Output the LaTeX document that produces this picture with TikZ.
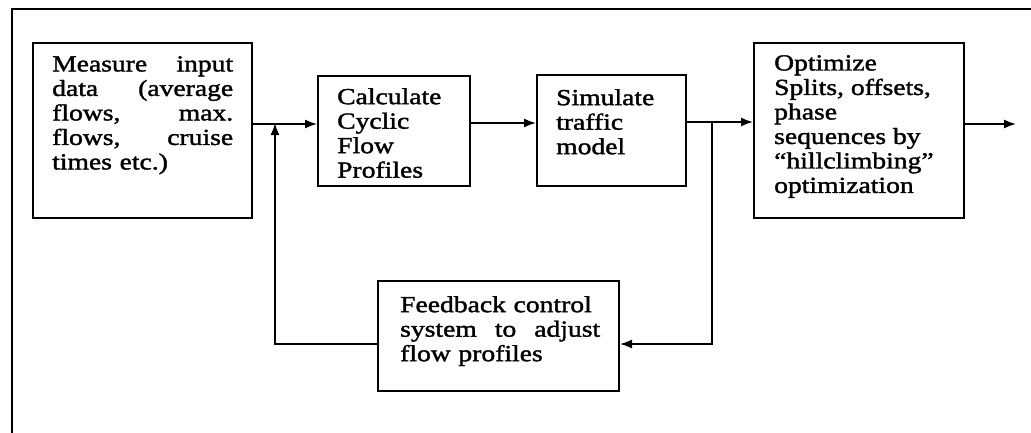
\documentclass[tikz,border=0pt]{standalone}
\usepackage{fontspec}
\setmainfont{Liberation Serif}[FakeStretch=1.2,FakeBold=1.6]
\usetikzlibrary{arrows.meta}
\begin{document}
\begin{tikzpicture}[x=1pt,y=-1pt,
  box/.style={draw,line width=2pt,rectangle,inner sep=0pt},
  txt/.style={anchor=north west,inner sep=0pt,align=left,font=\fontsize{23}{24.5}\selectfont},
  arr/.style={line width=1.6pt,-{Latex[length=12pt,width=9pt]}},
  ln/.style={line width=1.6pt}]
\useasboundingbox (0,0) rectangle (1031,432);
\fill[white] (0,0) rectangle (1031,432);
% outer frame
\draw[line width=2.8pt] (1035,9) -- (12,9) -- (12,436);
% boxes
\node[box,minimum width=219pt,minimum height=175pt] (b1) at (142.5,130.5) {};
\node[box,minimum width=152pt,minimum height=110pt] (b2) at (394,131) {};
\node[box,minimum width=149pt,minimum height=111pt] (b3) at (611.5,130.5) {};
\node[box,minimum width=210pt,minimum height=175pt] (b4) at (859,130.5) {};
\node[box,minimum width=241pt,minimum height=110pt] (fb) at (498.5,336) {};
% texts
\node[txt,text width=181pt] (t1) at (52,56) {Measure\hfill input\\data\hfill(average\\flows,\hfill max.\\flows,\hfill cruise\\times etc.)};
\node[txt] (t2) at (337,88) {Calculate\\Cyclic\\Flow\\Profiles};
\node[txt] (t3) at (556,89) {Simulate\\traffic\\model};
\node[txt] (t4) at (774,55) {Optimize\\Splits, offsets,\\phase\\sequences by\\“hillclimbing”\\optimization};
\node[txt,text width=200pt] (t5) at (400,296) {Feedback control\\system\hfill to\hfill adjust\\flow profiles};
% helper coordinates
\coordinate (r1) at (0,124);
\coordinate (r2) at (0,123);
\coordinate (r3) at (0,122);
\coordinate (ly) at (0,344);
\coordinate (j1) at (275,0);
\coordinate (j2) at (712,0);
\coordinate (out) at (1016,124);
% connectors
\draw[arr] (b1.east|-r1) -- (b2.west|-r1);
\draw[arr] (b2.east|-r2) -- (b3.west|-r2);
\draw[arr] (b3.east|-r3) -- (b4.west|-r3);
\draw[arr] (b4.east|-out) -- (out);
\draw[arr] (fb.west|-ly) -| ([yshift=1pt]j1|-r1);
\draw[arr] (j2|-r3) |- (fb.east|-ly);
\end{tikzpicture}
\end{document}
